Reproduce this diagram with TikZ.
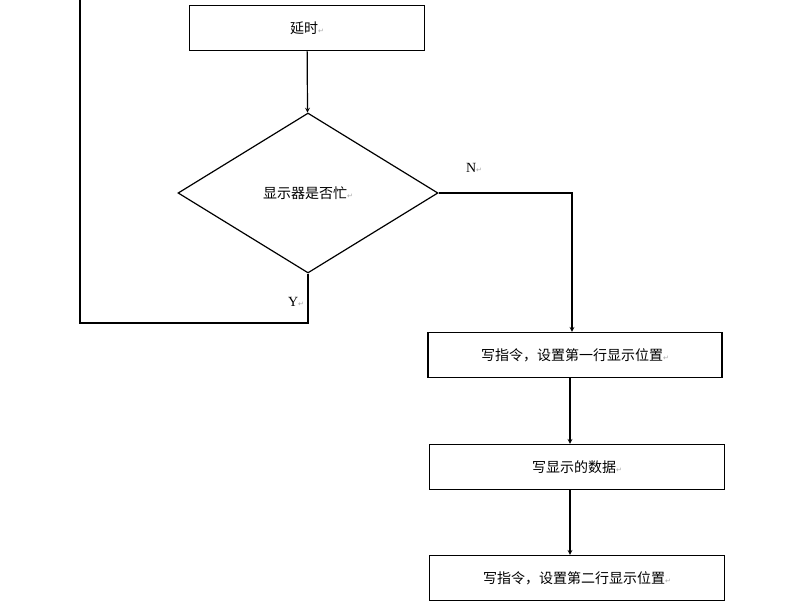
\documentclass[tikz,border=0pt]{standalone}
\usepackage{fontspec}
\setmainfont{Liberation Serif}
\newfontfamily\cjk{Noto Sans CJK SC}
\newfontfamily\symf{DejaVu Sans}
\usetikzlibrary{positioning, shapes.geometric}
\newcommand{\pmark}{{\color{gray!70}\scriptsize\symf ↵}}
\tikzset{
  proc/.style={draw, line width=1.2pt, minimum height=45pt, inner sep=0pt, font=\cjk\fontsize{14}{16}\selectfont},
  test/.style={draw, diamond, line width=1.2pt, aspect=1.62, minimum width=260pt, minimum height=160pt, inner sep=0pt, font=\cjk\fontsize{14}{16}\selectfont},
  flow/.style={line width=1.2pt, ->, >=stealth}
}
\begin{document}
\begin{tikzpicture}[x=1pt, y=-1pt]
        \useasboundingbox (0,0) rectangle (800,600);
        \node[proc, minimum width=235pt]   (B0) at (307,28)  {延时\pmark};
        \node[test]                        (D0) at (308,193) {显示器是否忙\pmark};
        \node[proc, minimum width=294pt]   (B1) at (575,355) {写指令，设置第一行显示位置\pmark};
        \node[proc, minimum width=295pt]   (B2) at (577,467) {写显示的数据\pmark};
        \node[proc, minimum width=295pt]   (B3) at (577,578) {写指令，设置第二行显示位置\pmark};
        \coordinate (T0) at (80,-5);

        \draw[flow] (B0) -- (D0);
        \draw[flow] (D0.east) -| (B1.north -| 572,0);
        \draw[flow] (B1.south -| 570,0) -- (B2.north -| 570,0);
        \draw[flow] (B2.south -| 570,0) -- (B3.north -| 570,0);
        \draw[line width=1.2pt] (D0.south) |- (80,323) -- (T0);

        \node[font=\fontsize{14}{16}\selectfont] at (474,168) {N\pmark};
        \node[font=\fontsize{14}{16}\selectfont] at (296,302) {Y\pmark};
      \end{tikzpicture}
\end{document}
